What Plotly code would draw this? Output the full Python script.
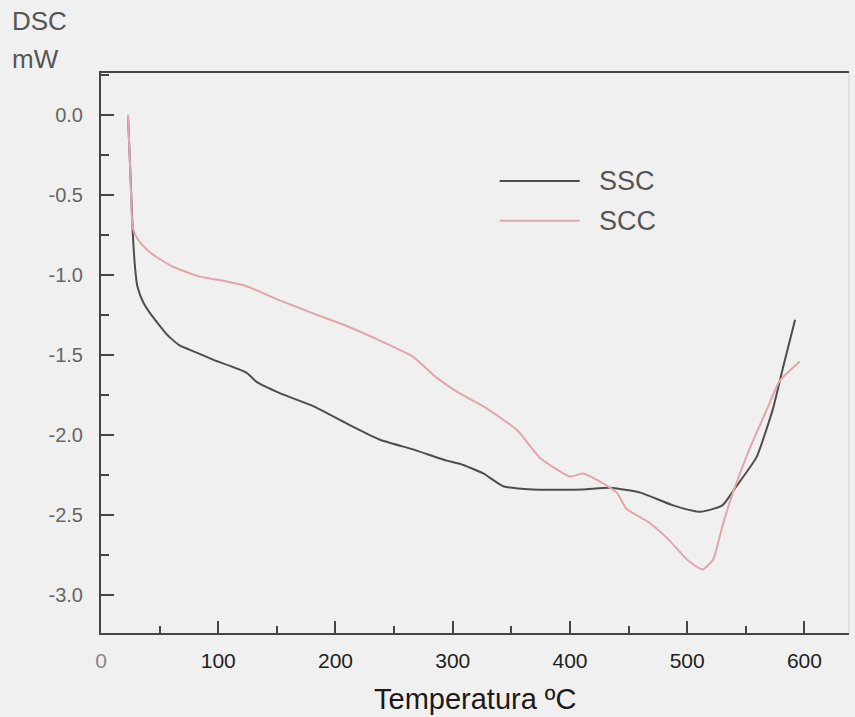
import plotly.graph_objects as go

# DSC curves
ssc_t = [23, 25, 27, 29, 31, 36, 42, 56, 67, 80, 96, 124, 133, 153, 181, 210, 238,
         266, 295, 306, 326, 343, 368, 411, 434, 460, 488, 511, 530, 542, 559, 573, 582, 592]
ssc_mw = [0.0, -0.35, -0.72, -0.95, -1.07, -1.17, -1.24, -1.37, -1.44, -1.48, -1.53, -1.61, -1.67,
          -1.74, -1.82, -1.93, -2.03, -2.09, -2.16, -2.18, -2.24, -2.32, -2.34, -2.34, -2.33, -2.36,
          -2.44, -2.48, -2.44, -2.32, -2.14, -1.84, -1.57, -1.28]

scc_t = [23, 25, 27, 30, 35, 42, 50, 62, 84, 100, 124, 153, 181, 210, 238, 266, 286, 306,
         326, 355, 374, 400, 411, 423, 440, 448, 468, 485, 500, 513, 522, 530, 539, 553, 568, 579, 596]
scc_mw = [0.0, -0.35, -0.70, -0.76, -0.81, -0.86, -0.90, -0.95, -1.01, -1.03, -1.07, -1.16, -1.24,
          -1.32, -1.41, -1.51, -1.64, -1.74, -1.82, -1.97, -2.14, -2.26, -2.24, -2.28, -2.36, -2.46,
          -2.55, -2.66, -2.78, -2.84, -2.78, -2.57, -2.36, -2.09, -1.84, -1.66, -1.54]

x_ticks = [0, 100, 200, 300, 400, 500, 600]
x_labels = ['<span style="color:#8a8a8a">0</span>',
            "100", "200", "300", "400", "500", "600"]
y_ticks = [0, -0.5, -1.0, -1.5, -2.0, -2.5, -3.0]
y_labels = ["0.0", "-0.5", "-1.0", "-1.5", "-2.0", "-2.5", "-3.0"]

series_names = ["SSC", "SCC"]
colors = ["#4d4d4d", "#e3a5ad"]

fig = go.Figure()
fig.add_trace(go.Scatter(x=ssc_t, y=ssc_mw, mode="lines", name=series_names[0],
                         line=dict(color=colors[0], width=2, shape="spline", smoothing=0.5)))
fig.add_trace(go.Scatter(x=scc_t, y=scc_mw, mode="lines", name=series_names[1],
                         line=dict(color=colors[1], width=2, shape="spline", smoothing=0.5)))

# legend drawn by hand (long sample lines like the original)
for i, (name, c) in enumerate(zip(series_names, colors)):
    yy = 0.807 - i * 0.071
    fig.add_shape(type="line", xref="paper", yref="paper", x0=0.533, x1=0.640, y0=yy, y1=yy,
                  line=dict(color=c, width=2))
    fig.add_annotation(xref="paper", yref="paper", x=0.663, y=yy, text=name, showarrow=False,
                       xanchor="left", yanchor="middle", font=dict(size=27, color="#555555"))

# faint right border of the frame
fig.add_shape(type="line", xref="paper", yref="paper", x0=1, x1=1, y0=0, y1=1,
              line=dict(color="#dcdcdc", width=1.5))

fig.add_annotation(xref="paper", yref="paper", x=0.5, y=-0.118, text="Temperatura ºC",
                   showarrow=False, xanchor="center", yanchor="middle",
                   font=dict(size=29, color="#1a1a1a"))
fig.add_annotation(xref="paper", yref="paper", x=-0.121, y=1.093, text="DSC",
                   showarrow=False, xanchor="left", yanchor="middle",
                   font=dict(size=26, color="#555555"))
fig.add_annotation(xref="paper", yref="paper", x=-0.121, y=1.025, text="mW",
                   showarrow=False, xanchor="left", yanchor="middle",
                   font=dict(size=26, color="#555555"))

fig.update_layout(
    width=855, height=717,
    margin=dict(l=101, r=6, t=73, b=84),
    paper_bgcolor="#f0f0f0", plot_bgcolor="#f0f0f0",
    font=dict(family="Liberation Sans, Arial, sans-serif"),
    showlegend=False,
)
fig.update_xaxes(range=[0, 638], tickmode="array", tickvals=x_ticks, ticktext=x_labels,
                 ticks="inside", ticklen=12, tickwidth=2, tickcolor="#444",
                 minor=dict(ticks="inside", dtick=50, tick0=0, ticklen=7, tickwidth=2, tickcolor="#444"),
                 showline=True, linecolor="#444", linewidth=2, mirror=True, showgrid=False,
                 zeroline=False, tickfont=dict(size=21, color="#222"), ticklabelstandoff=8)
fig.update_yaxes(range=[-3.2375, 0.2625], tickmode="array", tickvals=y_ticks, ticktext=y_labels,
                 ticks="inside", ticklen=13, tickwidth=2, tickcolor="#444",
                 minor=dict(ticks="inside", dtick=0.25, tick0=0, ticklen=8, tickwidth=2, tickcolor="#444"),
                 showline=True, linecolor="#444", linewidth=2, showgrid=False, zeroline=False,
                 tickfont=dict(size=20, color="#666"), ticklabelstandoff=12)

fig.write_html("out.html", config={"displayModeBar": False},
               post_script="document.body.style.margin='0';document.body.style.background='#f0f0f0';")
